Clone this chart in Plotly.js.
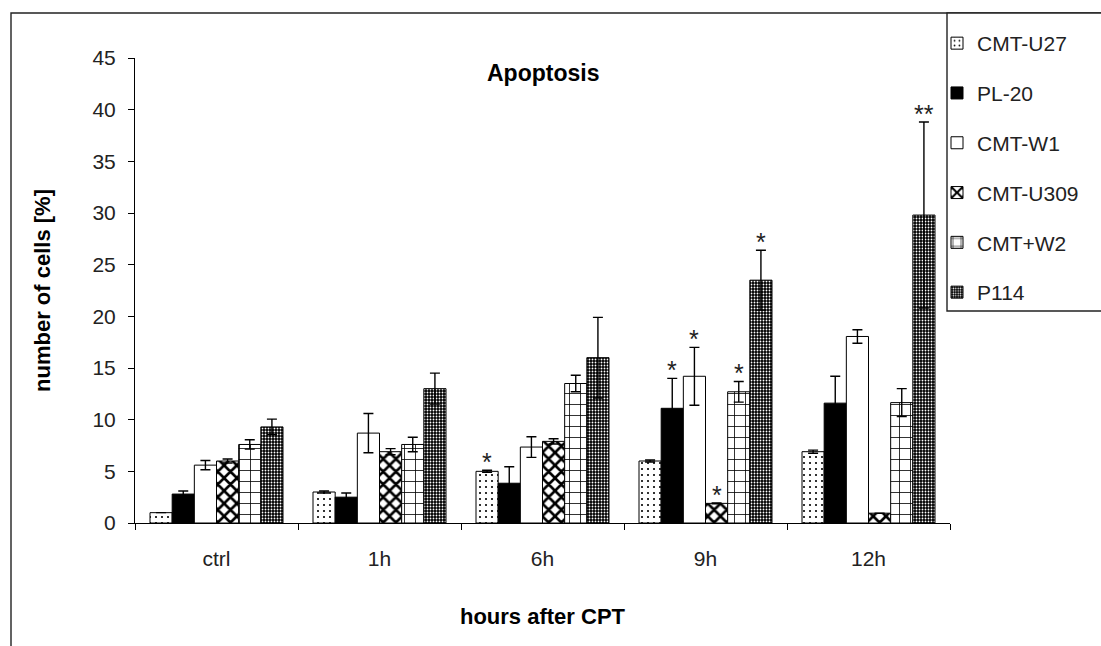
<!DOCTYPE html>
<html>
<head>
<meta charset="utf-8">
<script src="https://cdn.plot.ly/plotly-3.0.1.min.js"></script>
<style>html,body{margin:0;padding:0;background:#fff;}#chart{width:1101px;height:646px;}</style>
</head>
<body>
<div id="chart"></div>
<script>
// ---- data ----
var categories = ['ctrl', '1h', '6h', '9h', '12h'];
var seriesNames = ['CMT-U27', 'PL-20', 'CMT-W1', 'CMT-U309', 'CMT+W2', 'P114'];

var cmtU27   = [1.0, 3.0, 5.0, 6.0, 6.9];
var pl20     = [2.8, 2.5, 3.85, 11.1, 11.6];
var cmtW1    = [5.6, 8.7, 7.35, 14.2, 18.05];
var cmtU309  = [6.0, 6.9, 7.9, 1.9, 0.95];
var cmtW2    = [7.6, 7.6, 13.5, 12.7, 11.65];
var p114     = [9.3, 13.0, 16.0, 23.5, 29.8];

var errU27   = [0, 0.1, 0.1, 0.1, 0.15];
var errPL20  = [0.3, 0.4, 1.6, 2.9, 2.6];
var errW1    = [0.45, 1.9, 1.0, 2.8, 0.65];
var errU309  = [0.2, 0.3, 0.25, 0.05, 0];
var errW2    = [0.45, 0.7, 0.8, 1.0, 1.35];
var errP114  = [0.75, 1.5, 3.9, 2.9, 9.0];

// significance marks: [category, series index, label]
var starCats   = ['6h', '9h', '9h', '9h', '9h', '9h', '12h'];
var starSeries = [0, 1, 2, 3, 4, 5, 5];
var starLabels = ['*', '*', '*', '*', '*', '*', '**'];

var allValues = [cmtU27, pl20, cmtW1, cmtU309, cmtW2, p114];
var allErrors = [errU27, errPL20, errW1, errU309, errW2, errP114];

// ---- styles ----
var FONT = 'Liberation Sans, Arial, sans-serif';
var patterns = [
  {shape: '.', size: 6, solidity: 0.1, fgcolor: '#000', bgcolor: '#fff'},
  {shape: '', fgcolor: '#000', bgcolor: '#000'},
  {shape: '', fgcolor: '#fff', bgcolor: '#fff'},
  {shape: 'x', size: 9, solidity: 0.5, fgcolor: '#000', bgcolor: '#fff'},
  {shape: '+', size: 11, solidity: 0.14, fgcolor: '#000', bgcolor: '#fff'},
  {shape: '.', size: 3, solidity: 0.3, fgcolor: '#fff', bgcolor: '#000'}
];
var baseColors = ['#fff', '#000', '#fff', '#fff', '#fff', '#000'];

var traces = seriesNames.map(function (name, i) {
  return {
    type: 'bar',
    name: name,
    legendgroup: 'g' + i,
    x: categories,
    y: allValues[i],
    marker: {
      color: baseColors[i],
      line: {color: '#000', width: 1},
      pattern: patterns[i]
    },
    error_y: {
      type: 'data',
      array: allErrors[i],
      visible: true,
      color: '#000',
      thickness: 1.4,
      width: 5
    }
  };
});

// layout geometry
var W = 1101, H = 646;
var M = {l: 135, r: 151, t: 58, b: 123};
var plotW = W - M.l - M.r;
var plotH = H - M.t - M.b;
var bargap = 0.184;
var catPx = plotW / categories.length;
var barPx = catPx * (1 - bargap) / seriesNames.length;
function px2x(px) { return (px - M.l) / plotW; }
function px2y(py) { return (M.t + plotH - py) / plotH; }

var annotations = [];
annotations.push({
  text: '<b>Apoptosis</b>', xref: 'paper', yref: 'paper',
  x: 0.5, y: px2y(73), yanchor: 'middle', xanchor: 'center',
  showarrow: false, font: {family: FONT, size: 23, color: '#000'}
});
for (var k = 0; k < starCats.length; k++) {
  var ci = categories.indexOf(starCats[k]);
  var si = starSeries[k];
  annotations.push({
    text: starLabels[k], x: starCats[k], y: allValues[si][ci] + allErrors[si][ci],
    xref: 'x', yref: 'y', showarrow: false, yanchor: 'bottom',
    xshift: (si - (seriesNames.length - 1) / 2) * barPx, yshift: -8,
    font: {family: FONT, size: 25, color: '#222'}
  });
}

var layout = {
  width: W, height: H,
  margin: {l: M.l, r: M.r, t: M.t, b: M.b, autoexpand: false},
  paper_bgcolor: '#fff', plot_bgcolor: '#fff',
  barmode: 'group', bargap: bargap, bargroupgap: 0,
  font: {family: FONT, size: 21, color: '#222'},
  xaxis: {
    type: 'category', categoryorder: 'array', categoryarray: categories,
    range: [-0.5, categories.length - 0.5],
    showline: true, linecolor: '#000', linewidth: 1,
    ticks: 'outside', tickson: 'boundaries', ticklen: 6, tickcolor: '#000',
    showgrid: false, zeroline: false, ticklabelstandoff: 17,
    tickfont: {family: FONT, size: 21, color: '#222'},
    title: {text: '<b>hours after CPT</b>', font: {family: FONT, size: 22, color: '#000'}, standoff: 39}
  },
  yaxis: {
    range: [0, 45], dtick: 5, tick0: 0,
    showline: true, linecolor: '#000', linewidth: 1,
    ticks: 'outside', ticklen: 6, tickcolor: '#000',
    showgrid: false, zeroline: false, ticklabelstandoff: 8,
    tickfont: {family: FONT, size: 21, color: '#222'},
    title: {text: '<b>number of cells [%]</b>', font: {family: FONT, size: 22, color: '#000'}, standoff: 35}
  },
  legend: {
    x: px2x(937), xanchor: 'left',
    y: px2y(23), yanchor: 'top',
    borderwidth: 0, bgcolor: 'rgba(0,0,0,0)',
    tracegroupgap: 19.5,
    font: {family: FONT, size: 21, color: '#222'}
  },
  shapes: [{
    type: 'rect', xref: 'paper', yref: 'paper',
    x0: px2x(11), x1: 2,
    y0: -1, y1: px2y(13),
    line: {color: '#222', width: 1.4}, fillcolor: 'rgba(0,0,0,0)', layer: 'below'
  }, {
    type: 'rect', xref: 'paper', yref: 'paper',
    x0: px2x(947), x1: px2x(1120),
    y0: px2y(311), y1: px2y(13),
    line: {color: '#222', width: 1.4}, fillcolor: '#fff', layer: 'below'
  }],
  annotations: annotations,
  showlegend: true
};

Plotly.newPlot('chart', traces, layout, {displayModeBar: false, staticPlot: true});
</script>
</body>
</html>
